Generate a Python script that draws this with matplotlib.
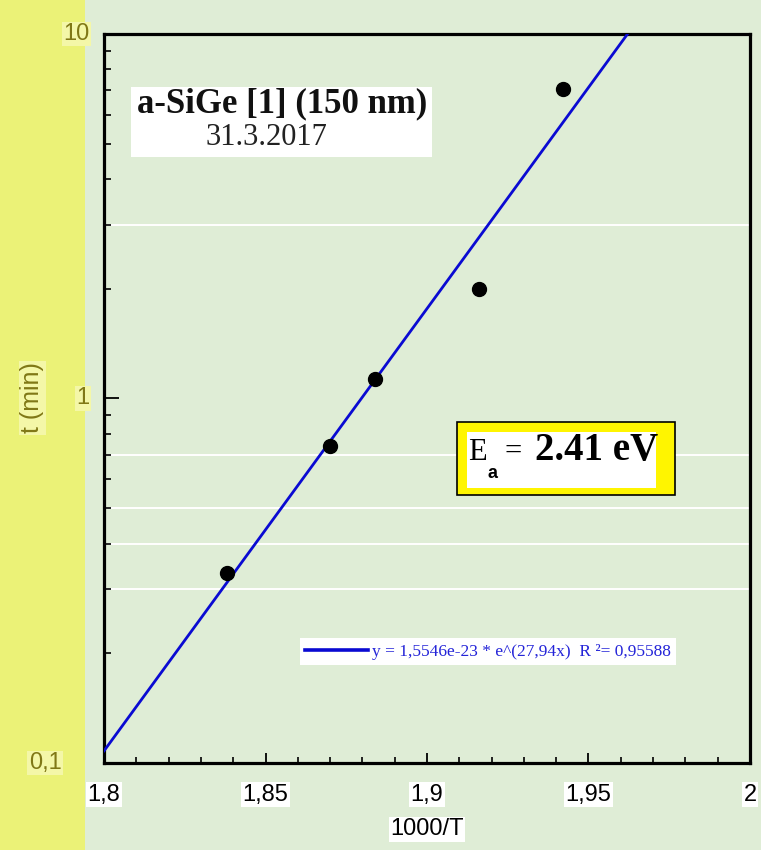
import matplotlib
matplotlib.use('Agg')
import matplotlib.pyplot as plt
import matplotlib.transforms as mtransforms
from matplotlib import font_manager
from matplotlib.patches import Rectangle
import numpy as np

# measured points: 1000/T and time in minutes
inv_T = [1.838, 1.870, 1.884, 1.916, 1.942]
t_min = [0.332, 0.741, 1.13, 2.0, 7.06]

# exponential fit y = A * exp(b * x)
fit_A = 1.5546e-23
fit_b = 27.94
fit_r2 = 0.95588
Ea = 2.41

xtick_vals = [1.8, 1.85, 1.9, 1.95, 2.0]
xtick_labels = ['1,8', '1,85', '1,9', '1,95', '2']
ytick_vals = [10, 1, 0.1]
ytick_labels = ['10', '1', '0,1']
grid_vals = [3, 0.7, 0.5, 0.4, 0.3]

BG = '#DFEDD6'
STRIP = '#EBF277'
LABEL_BG = '#F4F7A8'
OLIVE = '#807816'
BLUE = '#0A0AD2'

names = {f.name for f in font_manager.fontManager.ttflist}
if 'Liberation Sans Narrow' in names:
    SANS, TICK_FS = 'Liberation Sans Narrow', 19
else:
    SANS, TICK_FS = 'Liberation Sans', 17
SERIF = 'Liberation Serif'

fig = plt.figure(figsize=(7.61, 8.5), dpi=100, facecolor=BG)
fig.patches.append(Rectangle((0, 0), 85 / 761, 1, transform=fig.transFigure,
                             facecolor=STRIP, edgecolor='none', zorder=-5))
ax = fig.add_axes([0.1367, 0.1024, 0.8488, 0.8576], facecolor=BG)

ax.set_yscale('log')
ax.set_xlim(1.8, 2.0)
ax.set_ylim(0.1, 10)

for g in grid_vals:
    ax.axhline(g, color='white', lw=1.4, zorder=1)

# fit line
xf = np.linspace(1.8, 2.0, 400)
fit_label = (f'y = {fit_A:.4e} * e^({fit_b:.2f}x)  R ²= {fit_r2:.5f}'
             .replace('.', ','))
ax.plot(xf, fit_A * np.exp(fit_b * xf), color=BLUE, lw=2.0, zorder=3,
        label=fit_label)
ax.plot(inv_T, t_min, 'o', color='black', ms=10, zorder=4)

# frame and ticks
for sp in ax.spines.values():
    sp.set_linewidth(2.3)
ax.set_xticks(xtick_vals)
ax.set_xticklabels(xtick_labels)
ax.set_xticks(np.arange(1.81, 2.0, 0.01), minor=True)
ax.tick_params(axis='x', which='major', direction='in', length=7, width=1.3,
               pad=15, labelsize=TICK_FS, top=False)
ax.tick_params(axis='x', which='minor', direction='in', length=4, width=1.2,
               top=False)
ax.tick_params(axis='y', which='major', direction='in', length=11, width=1.3,
               labelleft=False, right=False)
ax.tick_params(axis='y', which='minor', direction='in', length=5, width=1.2,
               labelleft=False, right=False)
for lab in ax.get_xticklabels():
    lab.set_fontfamily(SANS)
    lab.set_bbox(dict(facecolor='white', edgecolor='none', pad=1))

ax.set_xlabel('1000/T', fontsize=TICK_FS, fontfamily=SANS, labelpad=9,
              bbox=dict(facecolor='white', edgecolor='none', pad=1))

# y tick labels sit on the yellow strip
trans = mtransforms.blended_transform_factory(ax.transAxes, ax.transData)
y_label_x = [-0.022, -0.022, -0.066]
for v, lab, xo in zip(ytick_vals, ytick_labels, y_label_x):
    ax.text(xo, v, lab, transform=trans, ha='right', va='center',
            fontsize=TICK_FS, fontfamily=SANS, color=OLIVE, clip_on=False,
            zorder=10,
            bbox=dict(facecolor=LABEL_BG, edgecolor='none', pad=1))
fig.text(32 / 761, 0.532, 't (min)', rotation=90, ha='center', va='center',
         fontsize=TICK_FS + 1, fontfamily=SANS, color=OLIVE,
         bbox=dict(facecolor=LABEL_BG, edgecolor='none', pad=1))

# sample title box
ax.add_patch(Rectangle((0.0418, 0.8313), 0.4659, 0.096, transform=ax.transAxes,
                       facecolor='white', edgecolor='none', zorder=5))
ax.text(0.2755, 0.904, 'a-SiGe [1] (150 nm)', transform=ax.transAxes,
        ha='center', va='center', fontsize=25, fontweight='bold',
        fontfamily=SERIF, color='#111111', zorder=6)
ax.text(0.252, 0.8587, '31.3.2017', transform=ax.transAxes, ha='center',
        va='center', fontsize=22, fontfamily=SERIF, color='#222222', zorder=6)

# activation energy box
ax.add_patch(Rectangle((0.5464, 0.3676), 0.3375, 0.1002, transform=ax.transAxes,
                       facecolor='#FFF500', edgecolor='black', lw=1.2, zorder=5))
ax.add_patch(Rectangle((0.5619, 0.3772), 0.2926, 0.0768, transform=ax.transAxes,
                       facecolor='white', edgecolor='none', zorder=6))
ax.text(0.5635, 0.4156, 'E', transform=ax.transAxes, va='baseline',
        fontsize=22, fontfamily=SERIF, zorder=7)
ax.text(0.594, 0.391, 'a', transform=ax.transAxes, va='baseline',
        fontsize=13, fontweight='bold', fontfamily=SANS, zorder=7)
ax.text(0.620, 0.4156, '=', transform=ax.transAxes, va='baseline',
        fontsize=22, fontfamily=SERIF, zorder=7)
ax.text(0.6672, 0.4156, f'{Ea:.2f} eV', transform=ax.transAxes,
        va='baseline', fontsize=28, fontweight='bold', fontfamily=SERIF,
        zorder=7)

leg = ax.legend(loc='center left', bbox_to_anchor=(0.3034, 0.1529),
                frameon=True, fancybox=False, facecolor='white',
                edgecolor='none', framealpha=1, borderaxespad=0,
                borderpad=0.3, handlelength=3.6, handletextpad=0.25,
                prop={'family': SERIF, 'size': 12.5}, labelcolor='#2424D8')
leg.get_lines()[0].set_linewidth(2.6)
leg.set_zorder(8)

fig.savefig('out.png', dpi=100, facecolor=BG)
